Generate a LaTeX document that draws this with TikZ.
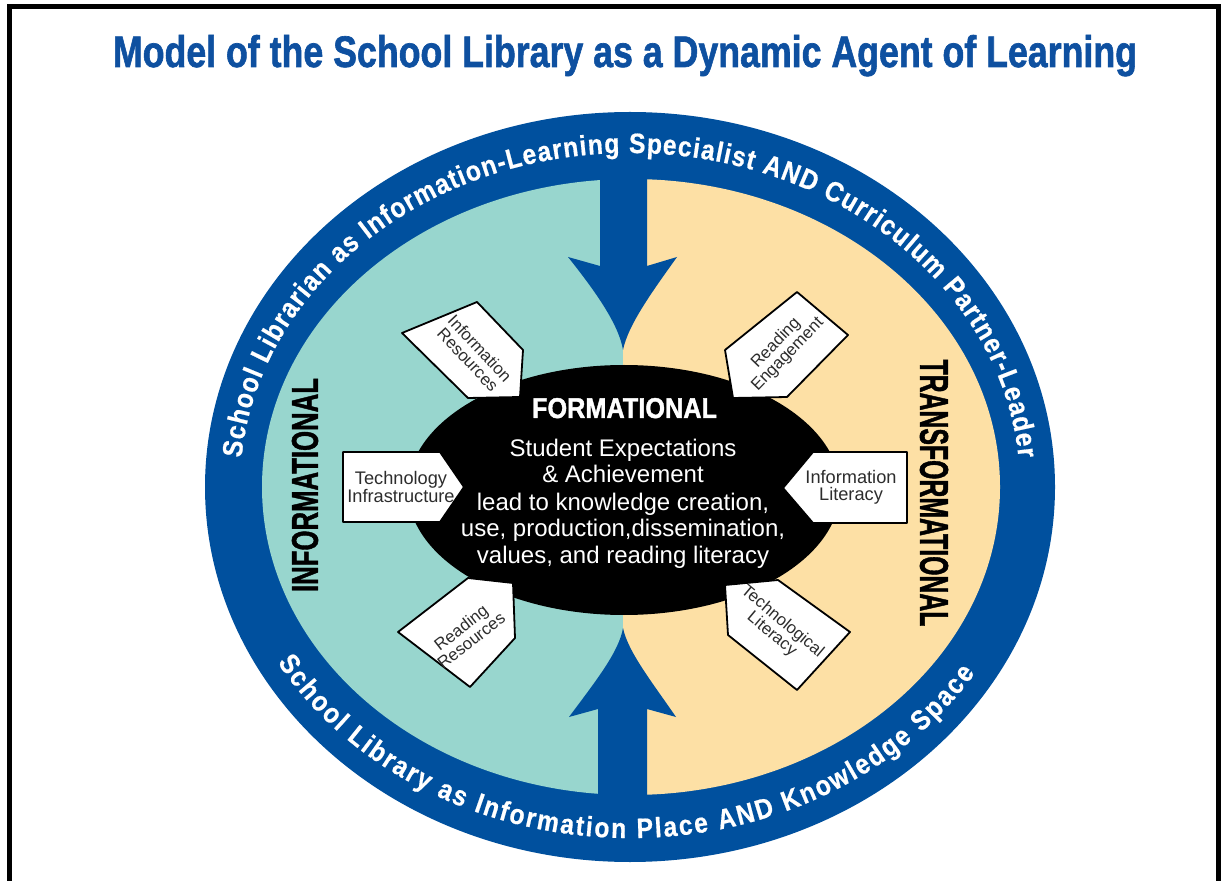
\documentclass[tikz,border=0pt]{standalone}
\usepackage{fontspec}
\usepackage{graphicx}
\setmainfont{Liberation Sans}
\newfontfamily\heavyfont[FakeBold=1.5]{Liberation Sans}
\newfontfamily\ringface[FakeStretch=0.88,FakeBold=0.6]{Liberation Sans}
\usetikzlibrary{decorations.text}
\definecolor{ringblue}{RGB}{0,80,158}
\definecolor{titleblue}{RGB}{14,80,160}
\definecolor{tealc}{RGB}{152,214,206}
\definecolor{tanc}{RGB}{253,224,165}
\definecolor{boxtext}{RGB}{45,45,45}
\newcommand\ringfnt{\ringface\bfseries\fontsize{14}{14}\selectfont}
\begin{document}
\begin{tikzpicture}[x=0.5pt,y=0.5pt,
  signbox/.style={fill=white,draw=black,line width=0.9pt,line join=round},
  signtext/.style={text=boxtext,align=center,font=\fontsize{9.1}{8.3}\selectfont,inner sep=0pt},
  tilttext/.style={signtext,font=\fontsize{8.4}{8.2}\selectfont},
  bodyline/.style={text=white,anchor=base,inner sep=0pt,font=\fontsize{12}{12}\selectfont}]
\useasboundingbox (0,0) rectangle (1225,-881);
\fill[white] (0,0) rectangle (1225,-881);
% frame
\draw[line width=2.5pt] (9,-881) -- (9,-7) -- (1218,-7) -- (1218,-881);
% title
\node[anchor=base,inner sep=0pt] (title) at (625,-67)
  {\resizebox{512pt}{16pt}{\heavyfont\bfseries\color{titleblue}Model of the School Library as a Dynamic Agent of Learning}};
% ring
\fill[ringblue] (630,-487) ellipse [x radius=425, y radius=375];
\begin{scope}
  \clip (631,-487) ellipse [x radius=369, y radius=308];
  \fill[tealc] (200,-100) rectangle (623,-900);
  \fill[tanc] (623,-100) rectangle (1100,-900);
\end{scope}
% arrows
\fill[ringblue] (600,-170) -- (600,-266) -- (568,-257)
  .. controls (596,-292) and (619,-325) .. (623,-350)
  .. controls (628,-325) and (652,-292) .. (677,-257)
  -- (647,-266) -- (647,-170) -- cycle;
\fill[ringblue] (598,-800) -- (598,-709) -- (569,-717)
  .. controls (595,-682) and (619,-652) .. (623,-628)
  .. controls (628,-652) and (652,-682) .. (676,-717)
  -- (647,-709) -- (647,-800) -- cycle;
% ring texts
\path[decorate,decoration={text along path,text align={fit to path},text color=white,
  text={|\ringfnt|School Librarian as Information-Learning Specialist AND Curriculum Partner-Leader}}]
  (630,-487) ++(175:390 and 334) arc[start angle=175,end angle=5,x radius=390,y radius=334];
\path[decorate,decoration={text along path,text align={fit to path},text color=white,
  text={|\ringfnt|School Library as Information Place AND Knowledge Space}}]
  (630,-487) ++(210:407 and 351) arc[start angle=210,end angle=328,x radius=407,y radius=351];
% black centre
\fill[black] (624,-490) ellipse [x radius=216, y radius=125];
% boxes
\draw[signbox] (477,-302) -- (402,-333) -- (468,-398) -- (520,-397) -- (523,-350) -- cycle;
\draw[signbox] (343,-452) -- (440,-452) -- (464,-487) -- (440,-522) -- (343,-522) -- cycle;
\draw[signbox] (398,-632) -- (468,-578) -- (513,-583) -- (515,-638) -- (470,-687) -- cycle;
\draw[signbox] (797,-292) -- (725,-350) -- (733,-398) -- (787,-397) -- (848,-335) -- cycle;
\draw[signbox] (813,-452) -- (907,-452) -- (907,-523) -- (813,-523) -- (783,-488) -- cycle;
\draw[signbox] (725,-585) -- (778,-580) -- (850,-632) -- (797,-690) -- (728,-635) -- cycle;
\node[tilttext,rotate=-47] (ir) at (474,-354) {Information\\Resources};
\node[signtext] (ti) at (401,-487) {Technology\\Infrastructure};
\node[tilttext,rotate=38] (rr) at (466,-634) {Reading\\Resources};
\node[tilttext,rotate=46] (re) at (782,-349) {Reading\\Engagement};
\node[signtext] (il) at (851,-487) {Information\\Literacy};
\node[tilttext,rotate=-40] (tl) at (777,-628) {Technological\\Literacy};
% side words
\node[rotate=90,inner sep=0pt] (inf) at (305,-485)
  {\resizebox{107pt}{13pt}{\heavyfont\bfseries INFORMATIONAL}};
\node[rotate=-90,inner sep=0pt] (trf) at (934,-493)
  {\resizebox{133.5pt}{14pt}{\heavyfont\bfseries TRANSFORMATIONAL}};
% centre texts
\node[anchor=base,inner sep=0pt] (form) at (624.5,-418)
  {\resizebox{92.5pt}{10pt}{\heavyfont\bfseries\color{white}FORMATIONAL}};
\node[bodyline] (l1) at (623,-457) {Student Expectations};
\node[bodyline] (l2) at (623,-483) {\& Achievement};
\node[bodyline] (l3) at (623,-510) {lead to knowledge creation,};
\node[bodyline] (l4) at (623,-537) {use, production,dissemination,};
\node[bodyline] (l5) at (623,-563) {values, and reading literacy};
\end{tikzpicture}
\end{document}
